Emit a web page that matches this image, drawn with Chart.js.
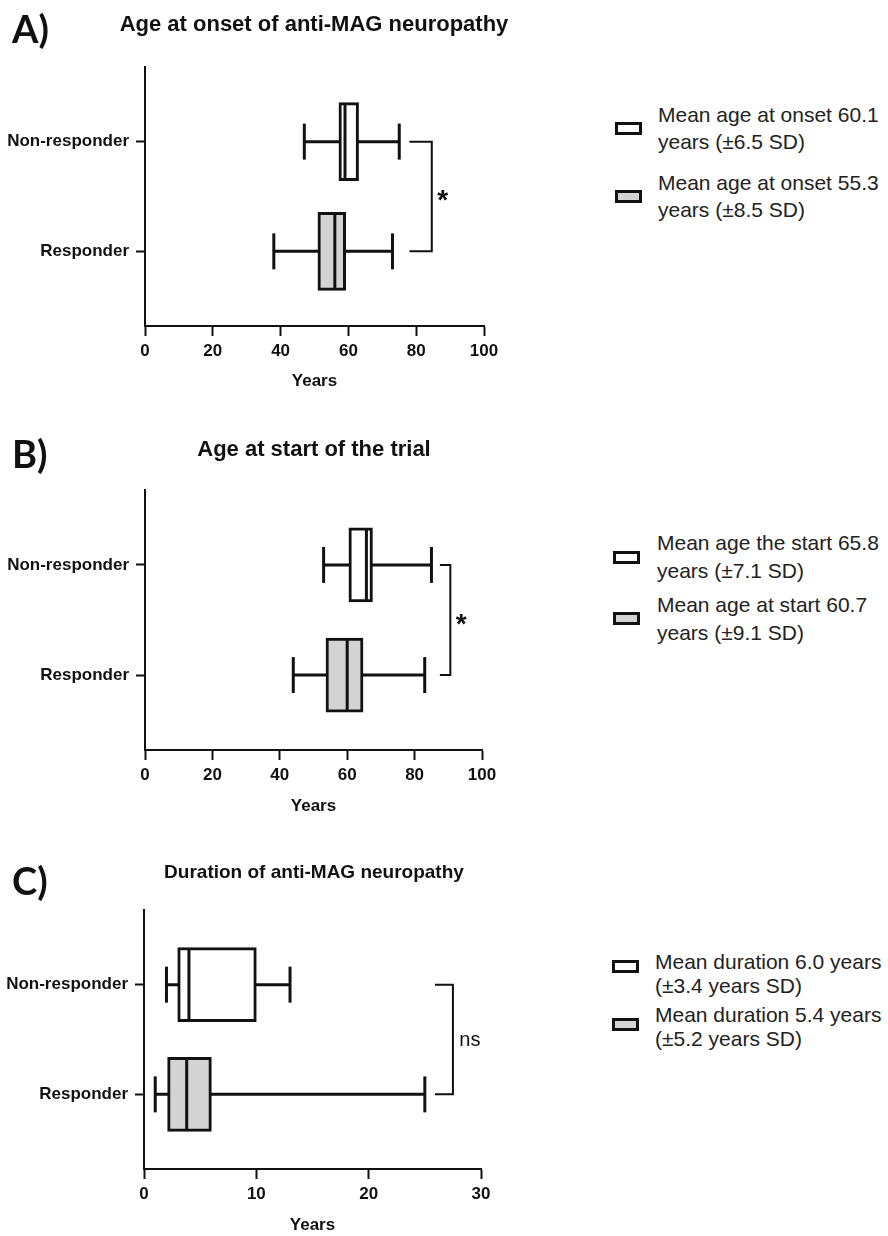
<!DOCTYPE html>
<html>
<head>
<meta charset="utf-8">
<script src="https://cdn.jsdelivr.net/npm/chart.js@4.4.1/dist/chart.umd.min.js"></script>
<style>
  html, body { margin: 0; padding: 0; background: #fff; }
  body { width: 888px; height: 1236px; position: relative; overflow: hidden;
         font-family: 'Liberation Sans', Arial, sans-serif; color: #111; }
  canvas { position: absolute; left: 0; }
  .letter { position: absolute; left: 12px; font-family: Lato, 'Open Sans', sans-serif;
            font-weight: 700; font-size: 38px; line-height: 40px; }
  .title { position: absolute; left: 0; width: 628px; text-align: center; font-weight: 700;
           line-height: 26px; white-space: nowrap; }
  .legend-text { position: absolute; font-size: 21px; white-space: nowrap; color: #222; }
  .swatch { position: absolute; width: 21px; height: 7px; border: 3px solid #111; }
</style>
</head>
<body>
<canvas id="chartA" width="600" height="400"></canvas>
<canvas id="chartB" width="600" height="425"></canvas>
<canvas id="chartC" width="600" height="416"></canvas>
<div id="labels"></div>

<script>
// categories (top to bottom)
const categories = ['Non-responder', 'Responder'];

// box stats: [min, q1, median, q3, max]
const onsetNonResponder = [47, 57.2, 59, 63, 75];
const onsetResponder = [38, 51, 56, 59.2, 73];
const startNonResponder = [53, 60.5, 65.7, 67.5, 85];
const startResponder = [44, 53.7, 60, 64.7, 83];
const durationNonResponder = [2, 3, 4, 10, 13];
const durationResponder = [1, 2.1, 3.8, 6, 25];

// x tick labels
const onsetTicks = [0, 20, 40, 60, 80, 100];
const startTicks = [0, 20, 40, 60, 80, 100];
const durationTicks = [0, 10, 20, 30];

// significance brackets (x range) and labels
const onsetBracket = [78, 84.6];
const startBracket = [87.5, 90.6];
const durationBracket = [25.9, 27.5];
const significance = ['*', '*', 'ns'];

const panelLetters = ['A)', 'B)', 'C)'];
const panelTitles = ['Age at onset of anti-MAG neuropathy', 'Age at start of the trial', 'Duration of anti-MAG neuropathy'];
const axisTitle = 'Years';

const legendOnset = [['Mean age at onset 60.1', 'years (\u00b16.5 SD)'], ['Mean age at onset 55.3', 'years (\u00b18.5 SD)']];
const legendStart = [['Mean age the start 65.8', 'years (\u00b17.1 SD)'], ['Mean age at start 60.7', 'years (\u00b19.1 SD)']];
const legendDuration = [['Mean duration 6.0 years', '(\u00b13.4 years SD)'], ['Mean duration 5.4 years', '(\u00b15.2 years SD)']];

const boxFills = ['#ffffff', '#d3d3d3'];
const ink = '#111';

Chart.defaults.font.family = "'Liberation Sans', Arial, sans-serif";
Chart.defaults.color = ink;

// page layout for each panel
const panels = [
  { id: 'chartA', top: 0, height: 400, left: 145, right: 484, axisTop: 67, axisBottom: 326, yearsY: 381,
    titleTop: 11, titleSize: 22, letterTop: 8, boxH: 78,
    stats: [onsetNonResponder, onsetResponder], ticks: onsetTicks, bracket: onsetBracket, sig: significance[0],
    legend: legendOnset, swatchX: 615, swatchY: [122, 190], textX: 658, textY: [101, 169], lineH: 27 },
  { id: 'chartB', top: 400, height: 425, left: 145, right: 482, axisTop: 490, axisBottom: 750, yearsY: 806,
    titleTop: 436, titleSize: 22, letterTop: 433, boxH: 74,
    stats: [startNonResponder, startResponder], ticks: startTicks, bracket: startBracket, sig: significance[1],
    legend: legendStart, swatchX: 613, swatchY: [551, 612], textX: 657, textY: [529, 591], lineH: 28 },
  { id: 'chartC', top: 820, height: 416, left: 144, right: 481, axisTop: 910, axisBottom: 1169, yearsY: 1226,
    titleTop: 859, titleSize: 19, letterTop: 860, boxH: 74,
    stats: [durationNonResponder, durationResponder], ticks: durationTicks, bracket: durationBracket, sig: significance[2],
    legend: legendDuration, swatchX: 612, swatchY: [960, 1018], textX: 655, textY: [950, 1003], lineH: 24 }
];

// significance label next to the bracket
const sigPlugin = {
  id: 'sigLabel',
  afterDatasetsDraw(chart, args, opts) {
    const { ctx, scales: { x, y } } = chart;
    const px = x.getPixelForValue(opts.at) + opts.dx;
    const py = (y.getPixelForValue(1) + y.getPixelForValue(2)) / 2 + opts.dy;
    ctx.save();
    ctx.fillStyle = ink;
    ctx.font = opts.font;
    ctx.textAlign = 'center';
    ctx.textBaseline = 'middle';
    ctx.fillText(opts.text, px, py);
    ctx.restore();
  }
};

const labelsDiv = document.getElementById('labels');
function addDiv(cls, text, style) {
  const d = document.createElement('div');
  d.className = cls;
  if (text) d.textContent = text;
  Object.assign(d.style, style);
  labelsDiv.appendChild(d);
  return d;
}

panels.forEach((p, pi) => {
  const canvas = document.getElementById(p.id);
  canvas.style.top = p.top + 'px';

  const rows = categories.map((c, i) => i + 1);
  const datasets = [];

  p.stats.forEach((s, i) => {
    // whisker line
    datasets.push({
      type: 'scatter', showLine: true,
      data: [{ x: s[0], y: rows[i] }, { x: s[4], y: rows[i] }],
      borderColor: ink, borderWidth: 3, pointRadius: 0, order: 3
    });
    // whisker caps
    datasets.push({
      type: 'scatter',
      data: [{ x: s[0], y: rows[i] }, { x: s[4], y: rows[i] }],
      pointStyle: 'line', pointRotation: 90, pointRadius: 18,
      pointBorderWidth: 3, pointBorderColor: ink, borderColor: ink, order: 2
    });
  });

  // boxes q1..q3
  datasets.push({
    type: 'bar', indexAxis: 'y', grouped: false,
    data: p.stats.map((s, i) => ({ y: rows[i], x: [s[1], s[3]] })),
    backgroundColor: boxFills, borderColor: ink, borderWidth: 3, borderSkipped: false,
    barThickness: p.boxH, order: 1
  });

  // medians
  datasets.push({
    type: 'scatter',
    data: p.stats.map((s, i) => ({ x: s[2], y: rows[i] })),
    pointStyle: 'line', pointRotation: 90, pointRadius: p.boxH / 2 - 2,
    pointBorderWidth: 3, pointBorderColor: ink, borderColor: ink, order: 0
  });

  // significance bracket
  datasets.push({
    type: 'scatter', showLine: true,
    data: [
      { x: p.bracket[0], y: rows[0] }, { x: p.bracket[1], y: rows[0] },
      { x: p.bracket[1], y: rows[1] }, { x: p.bracket[0], y: rows[1] }
    ],
    borderColor: ink, borderWidth: 2, pointRadius: 0, order: 0
  });

  const xHeight = p.top + p.height - p.axisBottom;
  const titlePad = Math.max(0, p.top + p.height - p.yearsY - 10.2);

  new Chart(canvas, {
    type: 'bar',
    data: { datasets },
    plugins: [sigPlugin],
    options: {
      responsive: false,
      animation: false,
      events: [],
      layout: { padding: { left: 0, top: p.axisTop - p.top, right: 600 - p.right, bottom: 0 } },
      plugins: {
        legend: { display: false },
        tooltip: { enabled: false },
        colors: { enabled: false },
        sigLabel: p.sig === '*'
          ? { text: '*', at: p.bracket[1], dx: 11, dy: 5, font: "bold 28px 'Liberation Sans', Arial" }
          : { text: 'ns', at: p.bracket[1], dx: 17, dy: 1, font: "20px 'Liberation Sans', Arial" }
      },
      scales: {
        x: {
          type: 'linear', offset: false,
          min: p.ticks[0], max: p.ticks[p.ticks.length - 1],
          afterBuildTicks: (s) => { s.ticks = p.ticks.map(v => ({ value: v })); },
          afterFit: (s) => { s.height = xHeight; },
          grid: { drawOnChartArea: false, offset: false, tickLength: 10, tickWidth: 2, tickColor: ink },
          border: { color: ink, width: 2 },
          ticks: { color: ink, font: { size: 17, weight: 'bold' }, padding: 5, maxRotation: 0, autoSkip: false },
          title: { display: true, text: axisTitle, color: ink, font: { size: 17, weight: 'bold' },
                   padding: { top: 0, bottom: titlePad } }
        },
        y: {
          type: 'linear', reverse: true, offset: false,
          min: 0.32, max: 2.68,
          afterBuildTicks: (s) => { s.ticks = rows.map(v => ({ value: v })); },
          afterFit: (s) => { s.width = p.left; },
          grid: { drawOnChartArea: false, offset: false, tickLength: 9, tickWidth: 2, tickColor: ink },
          border: { color: ink, width: 2 },
          ticks: { color: ink, font: { size: 17, weight: 'bold' }, padding: 7, autoSkip: false,
                   callback: (v, i) => categories[i] }
        }
      }
    }
  });

  // panel letter and title
  addDiv('letter', panelLetters[pi], { top: p.letterTop + 'px' });
  addDiv('title', panelTitles[pi], { top: p.titleTop + 'px', fontSize: p.titleSize + 'px' });

  // legend
  p.legend.forEach((lines, i) => {
    addDiv('swatch', '', { left: p.swatchX + 'px', top: p.swatchY[i] + 'px', background: boxFills[i] });
    const t = addDiv('legend-text', '', { left: p.textX + 'px', top: p.textY[i] + 'px', lineHeight: p.lineH + 'px' });
    lines.forEach((ln, k) => {
      if (k) t.appendChild(document.createElement('br'));
      t.appendChild(document.createTextNode(ln));
    });
  });
});
</script>
</body>
</html>
